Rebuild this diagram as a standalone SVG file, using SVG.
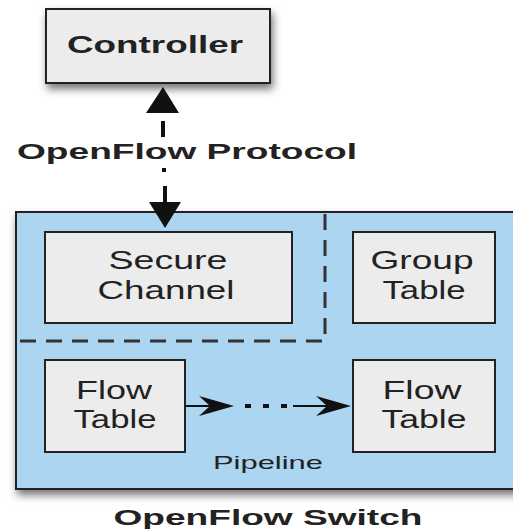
<svg xmlns="http://www.w3.org/2000/svg" width="513" height="529" viewBox="0 0 513 529">
<defs>
<filter id="sh" x="-10%" y="-10%" width="130%" height="140%">
<feDropShadow dx="2" dy="5" stdDeviation="4" flood-color="#000" flood-opacity="0.55"/>
</filter>
</defs>
<style>
.box{fill:#ececec;stroke:#222;stroke-width:2}
.t{font-family:"Liberation Sans",Arial,sans-serif;fill:#222;text-anchor:middle}
.b{font-weight:bold}
.dash{fill:none;stroke:#333;stroke-width:3;stroke-dasharray:16 10}
</style>
<rect width="513" height="529" fill="#fff"/>
<g id="switch">
<rect x="16" y="212" width="505" height="277" fill="#acd5f1" stroke="#222" stroke-width="2" filter="url(#sh)"/>
<path class="dash" d="M325 214 V341 H16"/>
<text class="t" x="268" y="469" font-size="19" textLength="110" lengthAdjust="spacingAndGlyphs">Pipeline</text>
<text class="t b" x="268" y="525" font-size="22" textLength="309" lengthAdjust="spacingAndGlyphs">OpenFlow Switch</text>
</g>
<g id="controller">
<rect class="box" x="46" y="9" width="224" height="74" filter="url(#sh)"/>
<text class="t b" x="155" y="53" font-size="24" textLength="176" lengthAdjust="spacingAndGlyphs">Controller</text>
</g>
<g id="secure-channel">
<rect class="box" x="45" y="232" width="247" height="91"/>
<text class="t" x="168" y="269" font-size="25" textLength="119" lengthAdjust="spacingAndGlyphs">Secure</text>
<text class="t" x="166" y="299" font-size="25" textLength="137" lengthAdjust="spacingAndGlyphs">Channel</text>
</g>
<g id="group-table">
<rect class="box" x="353" y="232" width="142" height="91"/>
<text class="t" x="422" y="269" font-size="25" textLength="103" lengthAdjust="spacingAndGlyphs">Group</text>
<text class="t" x="424" y="299" font-size="25" textLength="83" lengthAdjust="spacingAndGlyphs">Table</text>
</g>
<g id="flow-table-1">
<rect class="box" x="45" y="360" width="140" height="92"/>
<text class="t" x="114" y="399" font-size="25" textLength="76" lengthAdjust="spacingAndGlyphs">Flow</text>
<text class="t" x="115" y="428" font-size="25" textLength="83" lengthAdjust="spacingAndGlyphs">Table</text>
</g>
<g id="flow-table-2">
<rect class="box" x="353" y="360" width="142" height="92"/>
<text class="t" x="422" y="399" font-size="25" textLength="79" lengthAdjust="spacingAndGlyphs">Flow</text>
<text class="t" x="424" y="428" font-size="25" textLength="85" lengthAdjust="spacingAndGlyphs">Table</text>
</g>
<g id="connectors">
<path d="M163 87 L146 113 L179 113 Z" fill="#111"/>
<path d="M163 121 V137" stroke="#111" stroke-width="4"/>
<text class="t b" x="187" y="159" font-size="22" textLength="340" lengthAdjust="spacingAndGlyphs">OpenFlow Protocol</text>
<rect x="162" y="168" width="4" height="4" fill="#111"/>
<path d="M165 186 V204" stroke="#111" stroke-width="4"/>
<path d="M165 228 L149 202 L181 202 Z" fill="#111"/>
<path d="M185 406 H212" stroke="#111" stroke-width="2"/>
<path d="M234 406 L199 396 L210 406 L199 416 Z" fill="#111"/>
<rect x="245" y="404" width="6" height="4" fill="#111"/>
<rect x="263" y="404" width="6" height="4" fill="#111"/>
<rect x="281" y="404" width="6" height="4" fill="#111"/>
<path d="M293 406 H330" stroke="#111" stroke-width="2"/>
<path d="M351 406 L316 396 L327 406 L316 416 Z" fill="#111"/>
</g>
</svg>
